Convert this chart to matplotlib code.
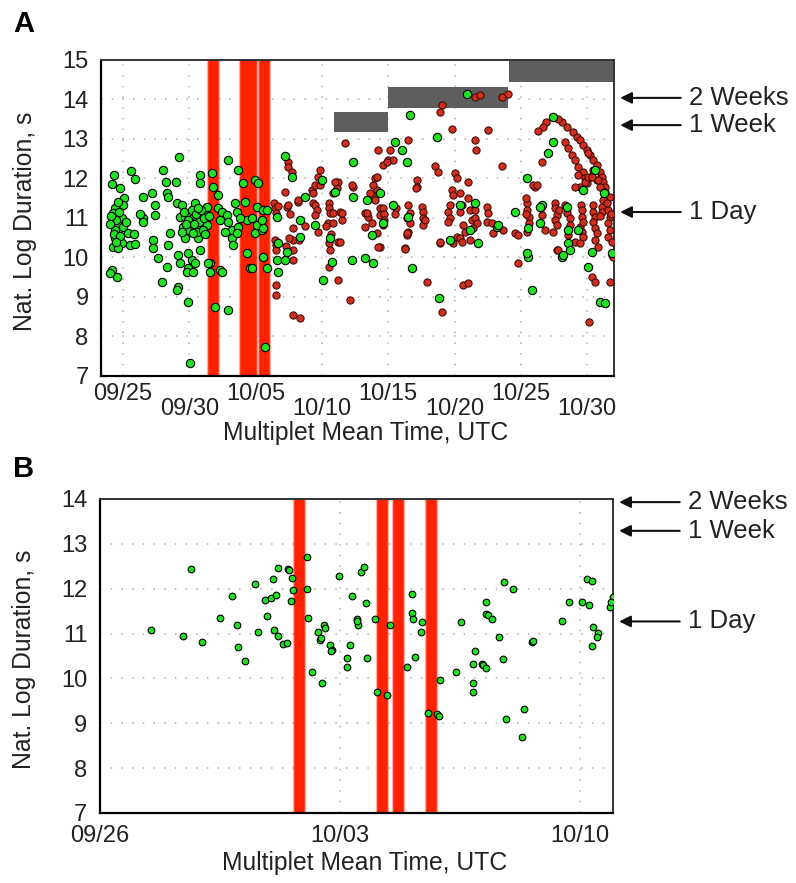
import numpy as np
import matplotlib
matplotlib.use("Agg")
import matplotlib.pyplot as plt
import matplotlib.dates as mdates

plt.rcParams['font.family'] = ['Liberation Sans', 'DejaVu Sans']

# ---------------------------------------------------------------- data
# Panel A: multiplet mean time (days after 09/25 00:00 UTC) and ln(duration / s)
A_BASE = '2012-09-25'
A_GREEN = [
    (-0.68, 12.09), (-0.83, 11.86), (-0.23, 11.76), (0.08, 11.5), (0.0, 11.33), (-0.6, 11.25),
    (-0.75, 11.13), (-0.45, 11.03), (-0.75, 10.9), (-0.38, 10.82), (-0.6, 10.7), (0.0, 10.77),
    (-0.08, 11.0), (0.38, 10.62), (-0.6, 10.49), (-0.08, 10.37), (-0.75, 10.27), (0.53, 10.32),
    (-0.38, 10.24), (-0.83, 9.68), (-0.45, 9.51), (-0.98, 9.6), (-0.5, 10.95), (-0.7, 10.6),
    (-0.3, 11.15), (-0.9, 11.05), (-0.2, 10.55), (-0.55, 10.4), (0.2, 10.9), (-0.95, 10.85),
    (-0.4, 11.4), (0.6, 12.19), (0.9, 11.99), (1.5, 11.53), (2.19, 11.63), (2.41, 11.33),
    (1.5, 11.0), (1.5, 10.9), (2.41, 11.08), (2.26, 10.44), (2.26, 10.24), (2.64, 9.99),
    (3.32, 9.76), (3.02, 12.22), (3.24, 11.91), (4.0, 11.91), (3.32, 11.63), (3.39, 11.53),
    (4.07, 11.38), (4.45, 11.33), (4.22, 12.54), (3.54, 10.62), (3.39, 10.32), (4.15, 10.06),
    (4.3, 11.03), (4.68, 11.03), (4.52, 10.77), (4.68, 10.49), (4.83, 10.7), (5.05, 11.08),
    (5.28, 11.0), (5.43, 11.38), (5.58, 10.77), (5.66, 10.49), (5.81, 12.09), (5.81, 11.89),
    (5.96, 10.95), (6.03, 11.13), (6.33, 11.28), (6.33, 10.82), (5.81, 10.19), (5.2, 9.94),
    (4.9, 9.73), (5.43, 9.86), (6.71, 12.14), (6.79, 11.79), (7.16, 11.58), (7.92, 12.47),
    (7.16, 11.25), (7.47, 11.15), (7.32, 10.95), (7.84, 11.08), (7.92, 10.9), (8.22, 10.7),
    (7.69, 10.65), (8.22, 10.49), (8.3, 10.32), (8.45, 11.38), (8.67, 12.22), (9.05, 11.89),
    (9.2, 11.41), (9.35, 10.95), (9.73, 11.0), (9.95, 11.96), (10.18, 11.89), (10.1, 11.28),
    (10.56, 11.2), (9.95, 10.62), (10.48, 10.7), (10.56, 10.01), (9.35, 10.11), (9.58, 9.73),
    (10.86, 9.73), (6.56, 9.86), (7.32, 9.68), (4.9, 10.11), (4.3, 9.86), (2.94, 9.38),
    (4.15, 9.25), (4.9, 8.87), (5.05, 7.33), (6.94, 8.75), (7.92, 8.67), (10.71, 7.73),
    (4.07, 9.18), (4.83, 9.63), (5.28, 9.63), (6.41, 9.86), (6.56, 9.63), (7.47, 9.63),
    (9.73, 9.73), (5.05, 10.9), (5.58, 10.65), (6.03, 10.7), (5.28, 10.62), (4.45, 10.65),
    (8.6, 11.15), (8.82, 11.0), (8.67, 10.77), (8.6, 10.62), (10.1, 10.82), (10.56, 10.75),
    (10.48, 10.95), (4.6, 11.15), (4.9, 10.95), (5.2, 11.2), (5.5, 11.1), (5.7, 10.9),
    (6.1, 11.0), (5.9, 11.2), (6.2, 10.6), (5.35, 10.85), (4.75, 10.85), (5.65, 11.25),
    (6.45, 11.05), (0.9, 10.35), (0.85, 10.6), (1.3, 11.1),
    (10.86, 11.2), (11.61, 11.02), (11.61, 9.94), (11.69, 9.63), (11.69, 10.37), (12.22, 12.57),
    (12.74, 12.04), (12.22, 9.94), (12.37, 10.14), (13.35, 10.52), (13.35, 10.95), (13.73, 11.53),
    (15.0, 11.96), (14.48, 10.82), (15.08, 9.43), (15.76, 9.89), (17.35, 12.42), (17.35, 11.53),
    (18.4, 11.46), (18.25, 9.99), (18.85, 9.86), (20.51, 12.93), (21.04, 12.72), (21.42, 12.42),
    (21.64, 13.6), (20.36, 11.33), (21.5, 11.03), (21.8, 9.73), (23.68, 13.04), (23.83, 8.97),
    (24.66, 10.44), (25.94, 14.14), (26.77, 10.37), (28.2, 10.77), (29.56, 11.15), (30.54, 10.01),
    (30.84, 9.18), (30.47, 12.01), (31.6, 11.33), (31.45, 10.87), (32.43, 13.55), (32.43, 12.92),
    (32.05, 12.65), (33.11, 10.01), (33.56, 10.37), (33.71, 10.19), (35.07, 9.76), (35.37, 10.14),
    (35.97, 8.87), (36.35, 8.85), (36.88, 10.11), (36.27, 11.63), (15.99, 11.66), (15.61, 10.49),
    (18.78, 10.57), (19.38, 11.63), (17.27, 9.94), (19.6, 10.87), (26.17, 10.7), (26.55, 11.38),
    (25.41, 11.33), (31.45, 11.28), (30.54, 10.75), (28.28, 10.82), (33.48, 11.28), (33.56, 10.7),
    (34.31, 10.7), (33.18, 10.06), (35.6, 12.22), (34.69, 11.71), (30.47, 10.11),
]
A_RED = [
    (11.35, 11.38), (11.45, 11.25), (11.5, 11.13), (11.45, 10.44), (11.55, 10.32), (11.5, 10.19),
    (11.5, 9.3), (11.55, 9.05), (11.7, 11.3), (12.44, 12.42), (12.44, 12.29), (12.74, 12.17),
    (12.22, 11.66), (12.37, 11.28), (12.44, 11.33), (12.82, 10.75), (12.82, 10.44), (12.82, 10.19),
    (12.82, 9.94), (12.82, 8.54), (13.35, 8.47), (13.2, 11.41), (13.2, 11.46), (12.6, 11.1),
    (12.5, 10.5), (12.3, 10.3), (14.25, 11.71), (14.33, 11.63), (14.48, 11.84), (14.71, 12.04),
    (14.86, 12.22), (14.33, 11.38), (14.48, 11.33), (14.63, 11.2), (14.48, 11.08), (14.7, 10.65),
    (14.86, 11.84), (13.7, 10.8), (13.3, 10.45), (15.5, 11.38), (15.5, 11.25), (15.61, 11.13),
    (15.45, 10.87), (15.84, 10.87), (16.37, 11.15), (16.52, 10.95), (16.21, 10.39), (15.5, 10.37),
    (15.61, 10.19), (15.84, 11.63), (16.21, 11.91), (15.84, 11.13), (16.52, 11.13), (16.74, 12.9),
    (16.14, 11.76), (15.99, 11.91), (15.5, 9.76), (16.21, 9.43), (16.37, 10.4), (17.12, 8.92),
    (17.35, 11.79), (17.27, 11.84), (15.7, 10.6), (15.3, 10.8), (19.0, 12.01), (19.16, 11.71),
    (18.78, 11.58), (19.0, 11.46), (18.25, 11.13), (18.48, 11.03), (18.78, 10.87), (19.38, 11.25),
    (19.38, 11.08), (18.25, 10.77), (19.38, 10.27), (18.63, 11.63), (18.85, 11.84), (19.16, 12.04),
    (19.23, 12.72), (19.6, 12.34), (19.98, 12.47), (19.16, 10.62), (19.23, 10.27), (18.4, 11.13),
    (20.14, 12.72), (20.36, 12.47), (21.49, 12.97), (19.9, 12.42), (24.06, 13.86), (23.91, 13.68),
    (24.81, 13.25), (26.55, 12.97), (26.62, 12.72), (27.53, 13.23), (28.58, 12.32), (26.55, 14.06),
    (26.92, 14.11), (28.58, 14.06), (29.03, 14.14), (23.53, 12.32), (23.76, 12.17), (25.04, 12.14),
    (25.19, 12.01), (26.02, 11.91), (22.17, 11.96), (22.17, 11.79), (31.07, 11.79),
    (31.9, 13.43), (31.67, 13.3), (33.11, 13.43), (33.48, 13.3), (33.94, 13.18), (34.24, 13.05),
    (34.46, 12.97), (34.69, 12.85), (34.99, 12.72), (35.22, 12.6), (35.44, 12.47), (35.75, 12.34),
    (35.97, 12.17), (36.12, 12.04), (36.2, 11.91), (36.35, 11.79), (33.33, 12.92), (33.56, 12.77),
    (33.86, 12.6), (34.09, 12.47), (34.31, 12.29), (34.69, 12.17), (34.84, 12.01), (34.99, 11.89),
    (34.69, 11.71), (31.6, 12.42), (35.07, 12.65), (34.46, 11.79), (35.22, 12.04), (35.44, 12.22),
    (35.75, 11.96), (35.97, 11.79), (36.35, 11.66), (36.73, 11.53), (31.3, 13.2), (32.8, 13.5),
    (19.6, 11.25), (19.65, 11.1), (19.7, 10.95), (19.6, 10.82), (20.6, 11.25), (20.5, 11.1),
    (21.49, 11.33), (21.64, 11.13), (21.42, 11.0), (21.64, 10.87), (21.49, 10.65), (21.42, 10.57),
    (21.27, 10.24), (22.1, 11.76), (22.55, 11.28), (22.63, 11.15), (22.63, 11.0), (22.63, 10.82),
    (22.8, 10.95), (23.91, 10.37), (24.81, 11.71), (24.89, 11.58), (24.66, 11.33), (24.51, 11.15),
    (24.66, 11.0), (24.51, 10.9), (24.89, 10.37), (25.19, 10.52), (25.41, 11.63), (25.41, 11.15),
    (25.57, 11.33), (25.64, 10.82), (25.79, 10.65), (25.41, 10.49), (26.02, 11.51), (26.17, 11.2),
    (26.32, 10.95), (26.17, 10.44), (25.57, 10.4), (26.55, 11.2), (26.55, 11.0), (26.7, 10.87),
    (26.4, 10.75), (27.45, 11.28), (27.53, 11.13), (27.45, 10.9), (27.83, 10.87), (27.9, 10.62),
    (29.56, 10.62), (29.79, 10.57), (30.47, 11.38), (30.47, 11.2), (30.62, 11.03), (30.4, 11.1),
    (30.62, 10.87), (30.47, 10.65), (30.4, 11.51), (30.92, 11.84), (31.22, 11.84), (31.6, 11.08),
    (31.83, 10.7), (31.5, 11.25), (32.58, 11.38), (32.58, 11.25), (32.73, 11.08), (32.58, 10.95),
    (32.73, 10.82), (32.43, 10.65), (32.73, 10.19), (32.9, 11.2), (33.33, 11.33), (33.48, 11.13),
    (33.71, 11.0), (33.71, 10.82), (33.56, 10.57), (34.09, 10.4), (34.54, 11.33), (34.61, 11.2),
    (34.61, 11.03), (34.46, 10.77), (34.61, 10.65), (34.69, 10.52), (34.84, 11.91), (35.07, 12.04),
    (34.31, 12.09), (34.09, 11.79), (34.7, 10.9), (35.44, 11.33), (35.44, 11.15), (35.6, 11.03),
    (35.44, 10.9), (35.6, 10.75), (35.75, 10.62), (35.6, 10.44), (35.82, 10.27), (36.12, 11.28),
    (36.12, 11.15), (36.2, 11.46), (35.37, 12.04), (35.82, 11.96), (36.0, 11.05), (36.5, 11.38),
    (36.58, 11.2), (36.73, 11.03), (36.58, 10.87), (36.73, 10.7), (36.58, 10.52), (36.88, 10.4),
    (36.88, 10.06), (36.8, 11.1), (21.42, 10.62), (21.27, 10.21), (22.93, 9.38), (23.91, 10.4),
    (24.06, 8.62), (25.64, 9.3), (26.02, 9.35), (28.66, 10.7), (29.79, 9.86), (32.81, 10.19),
    (34.46, 10.37), (35.37, 9.51), (35.6, 9.38), (35.14, 8.37), (36.73, 9.38), (36.95, 10.01),
]

# Panel B: days after 09/26 00:00 UTC and ln(duration / s)
B_BASE = '2012-09-26'
B_GREEN = [
    (1.49, 11.08), (2.42, 10.95), (2.97, 10.82), (2.65, 12.44), (3.5, 11.35), (3.85, 11.84),
    (3.99, 11.19), (4.02, 10.7), (4.23, 10.39), (4.52, 12.1), (4.61, 11.04), (4.87, 11.39),
    (4.81, 11.75), (4.98, 11.8), (5.13, 11.86), (5.04, 12.22), (5.19, 12.46), (5.07, 11.08),
    (5.19, 10.95), (5.34, 10.77), (5.45, 10.79), (5.48, 12.44), (5.5, 12.42), (5.6, 12.24),
    (5.57, 11.73), (5.63, 11.97), (6.04, 12.71), (6.04, 12.0), (6.07, 11.35), (6.36, 11.04),
    (6.41, 10.86), (6.45, 10.9), (6.53, 11.19), (6.56, 11.13), (6.71, 10.75), (6.76, 10.64),
    (6.97, 12.28), (7.2, 10.46), (7.2, 10.26), (7.29, 10.75), (7.35, 11.84), (7.49, 11.33),
    (7.52, 11.19), (7.5, 11.27), (7.6, 12.37), (7.7, 12.48), (7.76, 11.68), (7.78, 10.46),
    (8.02, 11.33), (8.45, 11.19), (6.18, 10.15), (6.47, 9.9), (6.73, 10.6), (8.08, 9.7),
    (8.37, 9.63), (9.1, 11.88), (9.1, 11.46), (9.13, 11.33), (9.39, 11.26), (9.36, 11.04),
    (9.18, 10.48), (8.95, 10.26), (10.52, 11.26), (10.93, 10.61), (10.87, 10.32), (11.14, 10.32),
    (11.25, 11.71), (11.25, 11.44), (11.3, 11.42), (11.43, 11.33), (11.63, 10.93), (11.75, 10.44),
    (11.78, 12.15), (12.04, 11.99), (12.6, 10.82), (12.63, 10.84), (13.47, 11.28), (13.67, 11.71),
    (14.05, 11.71), (14.26, 11.64), (14.2, 12.22), (14.34, 12.17), (14.96, 11.82), (14.87, 11.6),
    (14.9, 11.7), (14.37, 11.15), (14.52, 11.02), (14.49, 10.93), (14.34, 10.73), (9.91, 9.97),
    (9.83, 9.21), (9.88, 9.17), (9.56, 9.23), (10.38, 10.15), (10.87, 9.9), (10.87, 9.7),
    (11.17, 10.3), (11.25, 10.24), (11.84, 9.1), (12.36, 9.32), (12.3, 8.7),
]

# Times of the red marker events (shared by both panels)
EVENT_TIMES = ['2012-10-01T19:00', '2012-10-04T05:17', '2012-10-04T16:19', '2012-10-05T15:36']

# Grey duration windows in panel A: start, end, ln-duration bottom, top
WIN_START = ['2012-10-10T21:50', '2012-10-15T00:00', '2012-10-24T02:20']
WIN_END = ['2012-10-15T00:00', '2012-10-24T00:45', '2012-11-02T00:00']
WIN_LO = [13.18, 13.78, 14.44]
WIN_HI = [13.68, 14.32, 15.2]

# Reference durations marked with arrows
REF_LABELS = ['2 Weeks', '1 Week', '1 Day']
REF_Y_A = [14.04, 13.35, 11.15]
REF_Y_B = [13.93, 13.29, 11.27]

A_MAJOR = ['2012-09-25', '2012-10-05', '2012-10-15', '2012-10-25']
A_MINOR = ['2012-09-30', '2012-10-10', '2012-10-20', '2012-10-30']
B_TICKS = ['2012-09-26', '2012-10-03', '2012-10-10']

# ---------------------------------------------------------------- helpers
GREEN = '#22e022'
RED = '#d02e1e'
BAND = '#ff2200'
FS = 17
FS_LABEL = 17.8
FS_REF = 18.5


def dnum(s):
    return mdates.date2num(np.datetime64(s))


def unpack(base, pts):
    arr = np.array(pts, dtype=float)
    return dnum(base) + arr[:, 0], arr[:, 1]


def style_axes(ax):
    for side in ['left', 'bottom']:
        ax.spines[side].set_linewidth(1.6)
        ax.spines[side].set_color('black')
    for side in ['top', 'right']:
        ax.spines[side].set_linewidth(1.4)
        ax.spines[side].set_color('#333333')
    ax.tick_params(which='both', length=0, labelsize=FS, colors='#222222')
    ax.tick_params(axis='y', pad=9)
    ax.grid(True, which='both', color='#b0b0b0', linestyle=(0, (1, 6)), linewidth=1.1)
    ax.set_axisbelow(True)
    ax.xaxis.set_major_formatter(mdates.DateFormatter('%m/%d'))
    ax.xaxis.set_minor_formatter(mdates.DateFormatter('%m/%d'))


def events(ax):
    for t in EVENT_TIMES:
        x = dnum(t)
        ax.axvline(x, color=BAND, lw=9.6, alpha=0.35, zorder=1)
        ax.axvline(x, color=BAND, lw=7.6, zorder=1.1)


def arrows(ax, ys):
    tr = ax.get_yaxis_transform()
    for lab, y in zip(REF_LABELS, ys):
        ax.annotate('', xy=(1.012, y), xycoords=tr, xytext=(1.13, y), textcoords=tr,
                    arrowprops=dict(arrowstyle='-|>', color='#111111', lw=1.5,
                                    mutation_scale=17, shrinkA=0, shrinkB=0),
                    annotation_clip=False)
        ax.text(1.146, y, lab, transform=tr, ha='left', va='center',
                fontsize=FS_REF, color='#222222')


fig = plt.figure(figsize=(7.96, 8.83), dpi=100)

# ---------------------------------------------------------------- panel A
axA = fig.add_axes([0.1269, 0.5742, 0.6445, 0.3579])
style_axes(axA)
events(axA)
for s, e, lo, hi in zip(WIN_START, WIN_END, WIN_LO, WIN_HI):
    axA.broken_barh([(dnum(s), dnum(e) - dnum(s))], (lo, hi - lo),
                    facecolors='#5e5e5e', zorder=1.5)
xr, yr = unpack(A_BASE, A_RED)
axA.scatter(xr, yr, s=27, c=RED, edgecolors='#3a0a05', linewidths=0.75, zorder=3)
xg, yg = unpack(A_BASE, A_GREEN)
axA.scatter(xg, yg, s=36, c=GREEN, edgecolors='black', linewidths=0.8, zorder=3.5)

axA.set_xlim(dnum('2012-09-23T08:10'), dnum('2012-11-01T00:45'))
axA.set_ylim(7, 15)
axA.set_yticks(range(7, 16))
axA.set_xticks([dnum(t) for t in A_MAJOR])
axA.set_xticks([dnum(t) for t in A_MINOR], minor=True)
axA.tick_params(axis='x', which='major', pad=5)
axA.tick_params(axis='x', which='minor', pad=16)
axA.set_ylabel('Nat. Log Duration, s', fontsize=FS_LABEL, color='#222222')
axA.yaxis.set_label_coords(-0.125, 0.49)
axA.set_xlabel('Multiplet Mean Time, UTC', fontsize=FS_LABEL, color='#222222')
axA.xaxis.label.set_va('center')
axA.xaxis.set_label_coords(0.515, -0.182)
arrows(axA, REF_Y_A)

# ---------------------------------------------------------------- panel B
axB = fig.add_axes([0.1256, 0.0793, 0.6445, 0.3556])
style_axes(axB)
events(axB)
xb, yb = unpack(B_BASE, B_GREEN)
axB.scatter(xb, yb, s=23, c=GREEN, edgecolors='black', linewidths=0.8, zorder=3.5)
axB.set_xlim(dnum('2012-09-26'), dnum('2012-10-10T23:00'))
axB.set_ylim(7, 14)
axB.set_yticks(range(7, 15))
axB.set_xticks([dnum(t) for t in B_TICKS])
axB.tick_params(axis='x', pad=9)
axB.set_ylabel('Nat. Log Duration, s', fontsize=FS_LABEL, color='#222222')
axB.yaxis.set_label_coords(-0.125, 0.49)
axB.set_xlabel('Multiplet Mean Time, UTC', fontsize=FS_LABEL, color='#222222')
axB.xaxis.label.set_va('center')
axB.xaxis.set_label_coords(0.515, -0.16)
arrows(axB, REF_Y_B)

fig.text(13 / 796, 1 - 10 / 883, 'A', fontsize=21, fontweight='bold', va='top', ha='left')
fig.text(13 / 796, 1 - 455 / 883, 'B', fontsize=21, fontweight='bold', va='top', ha='left')

fig.savefig('out.png', dpi=100)
